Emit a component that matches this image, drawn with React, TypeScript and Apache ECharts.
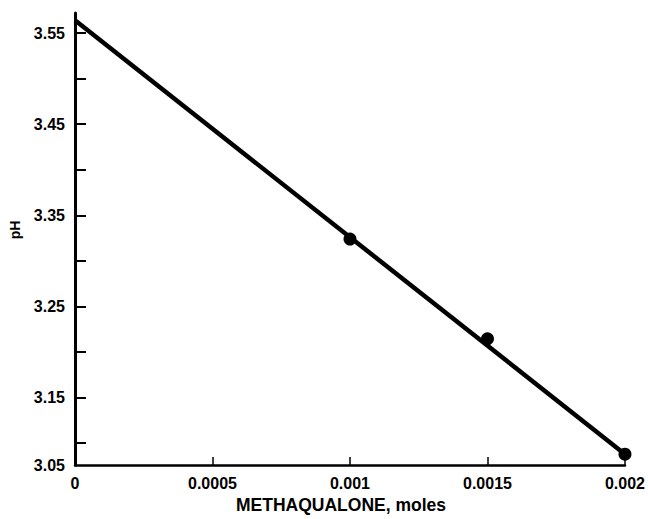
import React, { useEffect, useRef } from "react";
import * as echarts from "echarts";

// Measured points (moles of methaqualone vs pH)
const pointX = [0.001, 0.0015, 0.002];
const pointY = [3.324, 3.2145, 3.088];
// Fitted straight line end points
const fitX = [0, 0.002];
const fitY = [3.564, 3.088];

// Axis ticks and labels
const xTickValues = [0.0005, 0.001, 0.0015, 0.002];
const xLabelValues = [0, 0.0005, 0.001, 0.0015, 0.002];
const xLabelTexts = ["0", "0.0005", "0.001", "0.0015", "0.002"];
const yMin = 3.076;
const yMax = 3.572;
const yTickValues = [3.1, 3.15, 3.2, 3.25, 3.3, 3.35, 3.4, 3.45, 3.5, 3.55];
const yLabelValues = [yMin, 3.15, 3.25, 3.35, 3.45, 3.55];
const yLabelTexts = ["3.05", "3.15", "3.25", "3.35", "3.45", "3.55"];

const FONT = "Liberation Sans, Arial, sans-serif";

export default function App() {
  const ref = useRef<HTMLDivElement>(null);
  useEffect(() => {
    if (!ref.current) return;
    const chart = echarts.init(ref.current, null, { renderer: "svg" });
    const labelFor = (vals: number[], texts: string[]) => (v: number) => {
      let best = 0;
      for (let i = 0; i < vals.length; i++) {
        if (Math.abs(vals[i] - v) < Math.abs(vals[best] - v)) best = i;
      }
      return texts[best];
    };
    chart.setOption({
      animation: false,
      backgroundColor: "#ffffff",
      grid: { left: 75, right: 16, top: 13, bottom: 46, containLabel: false },
      xAxis: {
        type: "value",
        min: 0,
        max: 0.002,
        name: "METHAQUALONE, moles",
        nameLocation: "middle",
        nameGap: 28,
        nameTextStyle: {
          color: "#000",
          fontSize: 17.5,
          fontWeight: "bold",
          fontFamily: FONT,
          padding: [0, 18, 0, 0],
        },
        axisLine: { show: true, lineStyle: { color: "#000", width: 2.5 } },
        axisTick: {
          show: true,
          inside: true,
          length: 8,
          customValues: xTickValues,
          lineStyle: { color: "#000", width: 1.5 },
        },
        axisLabel: {
          color: "#000",
          fontSize: 16,
          fontWeight: "bold",
          fontFamily: FONT,
          margin: 10,
          customValues: xLabelValues,
          formatter: labelFor(xLabelValues, xLabelTexts),
        },
        splitLine: { show: false },
      },
      yAxis: {
        type: "value",
        min: yMin,
        max: yMax,
        axisLine: { show: true, lineStyle: { color: "#000", width: 3 } },
        axisTick: {
          show: true,
          inside: true,
          length: 11,
          customValues: yTickValues,
          lineStyle: { color: "#000", width: 2 },
        },
        axisLabel: {
          color: "#000",
          fontSize: 16,
          fontWeight: "bold",
          fontFamily: FONT,
          margin: 10,
          customValues: yLabelValues,
          formatter: labelFor(yLabelValues, yLabelTexts),
        },
        splitLine: { show: false },
      },
      graphic: [
        {
          type: "text",
          x: 15,
          y: 230,
          rotation: Math.PI / 2,
          style: {
            text: "pH",
            fill: "#000",
            font: `bold 14px ${FONT}`,
            textAlign: "center",
            textVerticalAlign: "middle",
          },
        },
      ],
      series: [
        {
          type: "line",
          data: fitX.map((x, i) => [x, fitY[i]]),
          symbol: "none",
          lineStyle: { color: "#000", width: 4.5 },
          z: 2,
        },
        {
          type: "scatter",
          data: pointX.map((x, i) => [x, pointY[i]]),
          symbol: "circle",
          symbolSize: 13,
          itemStyle: { color: "#000", opacity: 1 },
          z: 3,
        },
      ],
    });
    return () => chart.dispose();
  }, []);
  return (
    <div
      ref={ref}
      style={{ position: "fixed", left: 0, top: 0, width: 648, height: 519 }}
    />
  );
}
